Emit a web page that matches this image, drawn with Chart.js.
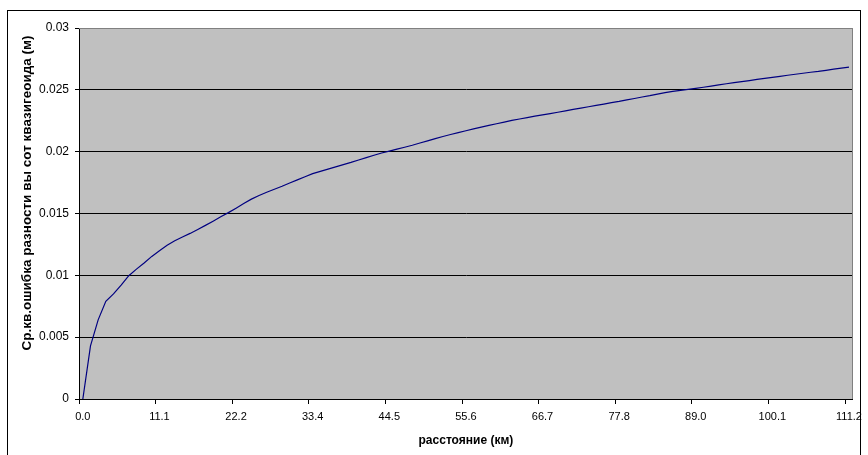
<!DOCTYPE html>
<html>
<head>
<meta charset="utf-8">
<script src="https://cdn.jsdelivr.net/npm/chart.js@4.4.1/dist/chart.umd.min.js"></script>
<style>
html,body{margin:0;padding:0;background:#fff;}
#wrap{width:868px;height:455px;position:relative;}
</style>
</head>
<body>
<div id="wrap"><canvas id="c" width="868" height="455"></canvas></div>
<script>
// Distance categories (km)
const distances = [
"0.0","1.1","2.2","3.3","4.4","5.6","6.7","7.8","8.9","10.0",
"11.1","12.2","13.3","14.5","15.6","16.7","17.8","18.9","20.0","21.1",
"22.2","23.4","24.5","25.6","26.7","27.8","28.9","30.0","31.1","32.2",
"33.4","34.5","35.6","36.7","37.8","38.9","40.0","41.1","42.3","43.4",
"44.5","45.6","46.7","47.8","48.9","50.0","51.2","52.3","53.4","54.5",
"55.6","56.7","57.8","58.9","60.0","61.2","62.3","63.4","64.5","65.6",
"66.7","67.8","68.9","70.1","71.2","72.3","73.4","74.5","75.6","76.7",
"77.8","79.0","80.1","81.2","82.3","83.4","84.5","85.6","86.7","87.8",
"89.0","90.1","91.2","92.3","93.4","94.5","95.6","96.7","97.9","99.0",
"100.1","101.2","102.3","103.4","104.5","105.6","106.8","107.9","109.0","110.1",
"111.2"
];
// RMS error of quasigeoid height difference (m)
const rmsError = [
0, 0.0043, 0.0064, 0.0079, 0.0085, 0.0092, 0.00997, 0.0105, 0.0110, 0.01153,
0.01198, 0.01243, 0.01279, 0.0131, 0.01339, 0.01371, 0.01404, 0.01438, 0.01473, 0.01507,
0.01543, 0.0158, 0.01616, 0.01645, 0.01672, 0.01696, 0.0172, 0.01747, 0.01772, 0.01797,
0.01822, 0.01841, 0.01859, 0.01877, 0.01895, 0.01913, 0.01933, 0.01952, 0.01971, 0.01989,
0.02005, 0.0202, 0.02036, 0.02052, 0.0207, 0.02087, 0.02105, 0.02123, 0.02139, 0.02154,
0.02169, 0.02184, 0.02199, 0.02212, 0.02226, 0.02239, 0.02253, 0.02264, 0.02275, 0.02287,
0.02297, 0.02308, 0.02319, 0.0233, 0.02342, 0.02352, 0.02363, 0.02374, 0.02385, 0.02396,
0.02406, 0.02419, 0.0243, 0.02442, 0.02453, 0.02466, 0.02477, 0.02487, 0.02495, 0.02504,
0.02512, 0.02521, 0.0253, 0.0254, 0.02549, 0.02558, 0.02566, 0.02575, 0.02584, 0.02592,
0.02601, 0.02609, 0.02618, 0.02626, 0.02634, 0.02642, 0.02649, 0.02658, 0.02667, 0.02675,
0.02684
];
const yTickLabels = ["0","0.005","0.01","0.015","0.02","0.025","0.03"];
const xTitle = "расстояние (км)";
const yTitle = "Ср.кв.ошибка разности вы сот квазигеоида (м)";

const decor = {
  id: 'decor',
  beforeDraw(chart) {
    const {ctx, chartArea: a} = chart;
    ctx.save();
    ctx.fillStyle = '#C0C0C0';
    ctx.fillRect(a.left, a.top, a.right - a.left, a.bottom - a.top);
    ctx.restore();
  },
  beforeDatasetsDraw(chart) {
    const {ctx, chartArea: a} = chart;
    ctx.save();
    ctx.strokeStyle = '#808080';
    ctx.lineWidth = 1;
    ctx.beginPath();
    ctx.moveTo(a.left, Math.round(a.top) + 0.5);
    ctx.lineTo(Math.round(a.right) - 0.5, Math.round(a.top) + 0.5);
    ctx.lineTo(Math.round(a.right) - 0.5, a.bottom);
    ctx.stroke();
    ctx.restore();
  },
  afterDraw(chart) {
    const {ctx} = chart;
    ctx.save();
    ctx.strokeStyle = '#000';
    ctx.lineWidth = 1;
    ctx.strokeRect(7.5, 10.5, 853, 460);
    ctx.translate(27, 193);
    ctx.rotate(-Math.PI / 2);
    ctx.font = 'bold 13.5px "Liberation Sans", Arial, sans-serif';
    ctx.fillStyle = '#000';
    ctx.textAlign = 'center';
    ctx.textBaseline = 'middle';
    ctx.fillText(yTitle, 0, 0);
    ctx.restore();
  }
};

new Chart(document.getElementById('c'), {
  type: 'line',
  data: {
    labels: distances,
    datasets: [{
      data: rmsError,
      borderColor: '#000080',
      borderWidth: 1.2,
      pointRadius: 0,
      tension: 0,
      fill: false
    }]
  },
  options: {
    responsive: false,
    animation: false,
    devicePixelRatio: 1,
    layout: {padding: {left: 0, top: 28, right: 14, bottom: 0}},
    plugins: {legend: {display: false}, tooltip: {enabled: false}},
    scales: {
      x: {
        type: 'category',
        offset: true,
        afterFit(s) { s.height = 56; },
        grid: {
          offset: true,
          drawOnChartArea: false,
          tickLength: 5,
          tickColor: (c) => (c.index % 10 === 0 ? '#000' : 'rgba(0,0,0,0)')
        },
        border: {color: '#000', width: 1},
        ticks: {
          autoSkip: false,
          maxRotation: 0,
          minRotation: 0,
          padding: 6,
          color: '#000',
          font: {family: '"Liberation Sans", Arial, sans-serif', size: 11},
          callback: (v, i) => (i % 10 === 0 ? distances[i] : '')
        },
        title: {
          display: true,
          text: xTitle,
          color: '#000',
          font: {family: '"Liberation Sans", Arial, sans-serif', size: 12, weight: 'bold'},
          padding: {top: 0, bottom: 7}
        }
      },
      y: {
        min: 0,
        max: 0.03,
        afterFit(s) { s.width = 79; },
        grid: {
          color: (c) => (c.index === 6 ? '#808080' : '#000'),
          tickColor: '#000',
          tickLength: 4,
          lineWidth: 1
        },
        border: {color: '#000', width: 1},
        ticks: {
          stepSize: 0.005,
          padding: 6,
          color: '#000',
          font: {family: '"Liberation Sans", Arial, sans-serif', size: 12},
          callback: (v, i) => yTickLabels[i]
        },
        title: {display: false}
      }
    }
  },
  plugins: [decor]
});
</script>
</body>
</html>
